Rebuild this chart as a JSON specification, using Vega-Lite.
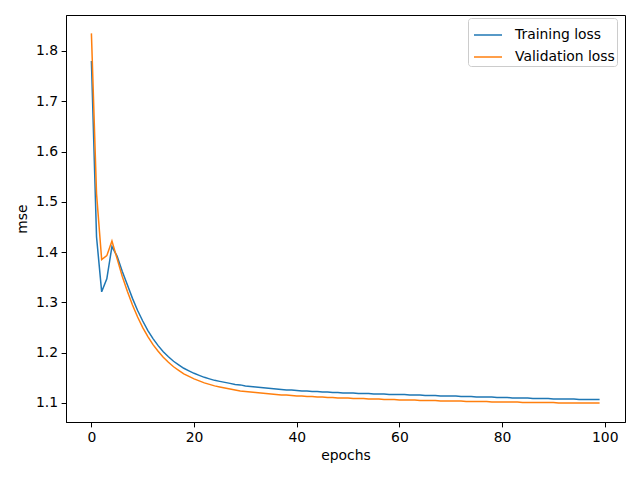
{
  "$schema": "https://vega.github.io/schema/vega-lite/v6.json",
  "width": 559,
  "height": 407,
  "autosize": {"type": "none"},
  "padding": {"left": 66, "top": 15, "right": 15, "bottom": 58},
  "background": "white",
  "config": {
    "view": {"stroke": "black", "strokeWidth": 1},
    "font": "DejaVu Sans",
    "axis": {
      "grid": false,
      "domainColor": "black",
      "tickColor": "black",
      "tickSize": 4.9,
      "labelPadding": 3.5,
      "labelFontSize": 13.9,
      "labelColor": "black",
      "titleFontSize": 13.9,
      "titleFontWeight": "normal",
      "titleColor": "black",
      "labelFont": "DejaVu Sans",
      "titleFont": "DejaVu Sans"
    },
    "legend": {
      "labelFont": "DejaVu Sans",
      "labelFontSize": 13.9,
      "labelColor": "black"
    }
  },
  "data": {
    "values": [
      {"epoch": 0, "Training loss": 1.780, "Validation loss": 1.835},
      {"epoch": 1, "Training loss": 1.430, "Validation loss": 1.516},
      {"epoch": 2, "Training loss": 1.321, "Validation loss": 1.385},
      {"epoch": 3, "Training loss": 1.347, "Validation loss": 1.393},
      {"epoch": 4, "Training loss": 1.411, "Validation loss": 1.422},
      {"epoch": 5, "Training loss": 1.392, "Validation loss": 1.387},
      {"epoch": 6, "Training loss": 1.362, "Validation loss": 1.352},
      {"epoch": 7, "Training loss": 1.335, "Validation loss": 1.322},
      {"epoch": 8, "Training loss": 1.308, "Validation loss": 1.295},
      {"epoch": 9, "Training loss": 1.284, "Validation loss": 1.271},
      {"epoch": 10, "Training loss": 1.263, "Validation loss": 1.250},
      {"epoch": 11, "Training loss": 1.244, "Validation loss": 1.232},
      {"epoch": 12, "Training loss": 1.228, "Validation loss": 1.216},
      {"epoch": 13, "Training loss": 1.214, "Validation loss": 1.203},
      {"epoch": 14, "Training loss": 1.202, "Validation loss": 1.191},
      {"epoch": 15, "Training loss": 1.192, "Validation loss": 1.181},
      {"epoch": 16, "Training loss": 1.183, "Validation loss": 1.172},
      {"epoch": 17, "Training loss": 1.176, "Validation loss": 1.165},
      {"epoch": 18, "Training loss": 1.169, "Validation loss": 1.158},
      {"epoch": 19, "Training loss": 1.164, "Validation loss": 1.153},
      {"epoch": 20, "Training loss": 1.159, "Validation loss": 1.148},
      {"epoch": 21, "Training loss": 1.155, "Validation loss": 1.144},
      {"epoch": 22, "Training loss": 1.151, "Validation loss": 1.140},
      {"epoch": 23, "Training loss": 1.148, "Validation loss": 1.137},
      {"epoch": 24, "Training loss": 1.145, "Validation loss": 1.134},
      {"epoch": 25, "Training loss": 1.143, "Validation loss": 1.132},
      {"epoch": 26, "Training loss": 1.141, "Validation loss": 1.130},
      {"epoch": 27, "Training loss": 1.139, "Validation loss": 1.128},
      {"epoch": 28, "Training loss": 1.137, "Validation loss": 1.126},
      {"epoch": 29, "Training loss": 1.136, "Validation loss": 1.124},
      {"epoch": 30, "Training loss": 1.134, "Validation loss": 1.123},
      {"epoch": 31, "Training loss": 1.133, "Validation loss": 1.122},
      {"epoch": 32, "Training loss": 1.132, "Validation loss": 1.121},
      {"epoch": 33, "Training loss": 1.131, "Validation loss": 1.120},
      {"epoch": 34, "Training loss": 1.130, "Validation loss": 1.119},
      {"epoch": 35, "Training loss": 1.129, "Validation loss": 1.118},
      {"epoch": 36, "Training loss": 1.128, "Validation loss": 1.117},
      {"epoch": 37, "Training loss": 1.127, "Validation loss": 1.116},
      {"epoch": 38, "Training loss": 1.126, "Validation loss": 1.116},
      {"epoch": 39, "Training loss": 1.126, "Validation loss": 1.115},
      {"epoch": 40, "Training loss": 1.125, "Validation loss": 1.114},
      {"epoch": 41, "Training loss": 1.124, "Validation loss": 1.114},
      {"epoch": 42, "Training loss": 1.124, "Validation loss": 1.113},
      {"epoch": 43, "Training loss": 1.123, "Validation loss": 1.113},
      {"epoch": 44, "Training loss": 1.123, "Validation loss": 1.112},
      {"epoch": 45, "Training loss": 1.122, "Validation loss": 1.112},
      {"epoch": 46, "Training loss": 1.122, "Validation loss": 1.111},
      {"epoch": 47, "Training loss": 1.121, "Validation loss": 1.111},
      {"epoch": 48, "Training loss": 1.121, "Validation loss": 1.110},
      {"epoch": 49, "Training loss": 1.120, "Validation loss": 1.110},
      {"epoch": 50, "Training loss": 1.120, "Validation loss": 1.110},
      {"epoch": 51, "Training loss": 1.120, "Validation loss": 1.109},
      {"epoch": 52, "Training loss": 1.119, "Validation loss": 1.109},
      {"epoch": 53, "Training loss": 1.119, "Validation loss": 1.109},
      {"epoch": 54, "Training loss": 1.119, "Validation loss": 1.108},
      {"epoch": 55, "Training loss": 1.118, "Validation loss": 1.108},
      {"epoch": 56, "Training loss": 1.118, "Validation loss": 1.108},
      {"epoch": 57, "Training loss": 1.118, "Validation loss": 1.107},
      {"epoch": 58, "Training loss": 1.117, "Validation loss": 1.107},
      {"epoch": 59, "Training loss": 1.117, "Validation loss": 1.107},
      {"epoch": 60, "Training loss": 1.117, "Validation loss": 1.106},
      {"epoch": 61, "Training loss": 1.117, "Validation loss": 1.106},
      {"epoch": 62, "Training loss": 1.116, "Validation loss": 1.106},
      {"epoch": 63, "Training loss": 1.116, "Validation loss": 1.106},
      {"epoch": 64, "Training loss": 1.116, "Validation loss": 1.105},
      {"epoch": 65, "Training loss": 1.115, "Validation loss": 1.105},
      {"epoch": 66, "Training loss": 1.115, "Validation loss": 1.105},
      {"epoch": 67, "Training loss": 1.115, "Validation loss": 1.105},
      {"epoch": 68, "Training loss": 1.114, "Validation loss": 1.104},
      {"epoch": 69, "Training loss": 1.114, "Validation loss": 1.104},
      {"epoch": 70, "Training loss": 1.114, "Validation loss": 1.104},
      {"epoch": 71, "Training loss": 1.114, "Validation loss": 1.104},
      {"epoch": 72, "Training loss": 1.113, "Validation loss": 1.104},
      {"epoch": 73, "Training loss": 1.113, "Validation loss": 1.103},
      {"epoch": 74, "Training loss": 1.113, "Validation loss": 1.103},
      {"epoch": 75, "Training loss": 1.112, "Validation loss": 1.103},
      {"epoch": 76, "Training loss": 1.112, "Validation loss": 1.103},
      {"epoch": 77, "Training loss": 1.112, "Validation loss": 1.103},
      {"epoch": 78, "Training loss": 1.112, "Validation loss": 1.102},
      {"epoch": 79, "Training loss": 1.111, "Validation loss": 1.102},
      {"epoch": 80, "Training loss": 1.111, "Validation loss": 1.102},
      {"epoch": 81, "Training loss": 1.111, "Validation loss": 1.102},
      {"epoch": 82, "Training loss": 1.110, "Validation loss": 1.102},
      {"epoch": 83, "Training loss": 1.110, "Validation loss": 1.102},
      {"epoch": 84, "Training loss": 1.110, "Validation loss": 1.101},
      {"epoch": 85, "Training loss": 1.110, "Validation loss": 1.101},
      {"epoch": 86, "Training loss": 1.109, "Validation loss": 1.101},
      {"epoch": 87, "Training loss": 1.109, "Validation loss": 1.101},
      {"epoch": 88, "Training loss": 1.109, "Validation loss": 1.101},
      {"epoch": 89, "Training loss": 1.109, "Validation loss": 1.101},
      {"epoch": 90, "Training loss": 1.108, "Validation loss": 1.101},
      {"epoch": 91, "Training loss": 1.108, "Validation loss": 1.100},
      {"epoch": 92, "Training loss": 1.108, "Validation loss": 1.100},
      {"epoch": 93, "Training loss": 1.108, "Validation loss": 1.100},
      {"epoch": 94, "Training loss": 1.108, "Validation loss": 1.100},
      {"epoch": 95, "Training loss": 1.107, "Validation loss": 1.100},
      {"epoch": 96, "Training loss": 1.107, "Validation loss": 1.100},
      {"epoch": 97, "Training loss": 1.107, "Validation loss": 1.100},
      {"epoch": 98, "Training loss": 1.107, "Validation loss": 1.100},
      {"epoch": 99, "Training loss": 1.107, "Validation loss": 1.100}
    ]
  },
  "transform": [
    {"fold": ["Training loss", "Validation loss"], "as": ["series", "loss"]}
  ],
  "mark": {"type": "line", "strokeWidth": 1.5, "clip": true},
  "encoding": {
    "x": {
      "field": "epoch",
      "type": "quantitative",
      "scale": {"domain": [-4.95, 103.95], "nice": false, "zero": false},
      "axis": {"values": [0, 20, 40, 60, 80, 100], "format": "d", "title": "epochs", "titlePadding": 4}
    },
    "y": {
      "field": "loss",
      "type": "quantitative",
      "scale": {"domain": [1.0622, 1.8715], "nice": false, "zero": false},
      "axis": {"values": [1.1, 1.2, 1.3, 1.4, 1.5, 1.6, 1.7, 1.8], "format": ".1f", "title": "mse", "titlePadding": 6}
    },
    "color": {
      "field": "series",
      "type": "nominal",
      "scale": {"domain": ["Training loss", "Validation loss"], "range": ["#1f77b4", "#ff7f0e"]},
      "legend": {
        "title": null,
        "orient": "none",
        "legendX": 402,
        "legendY": 3,
        "symbolType": "stroke",
        "symbolSize": 784,
        "symbolStrokeWidth": 1.5,
        "symbolOffset": 3,
        "strokeColor": "#cccccc",
        "fillColor": "white",
        "cornerRadius": 3,
        "padding": 2,
        "rowPadding": -8,
        "labelOffset": 12
      }
    }
  }
}
